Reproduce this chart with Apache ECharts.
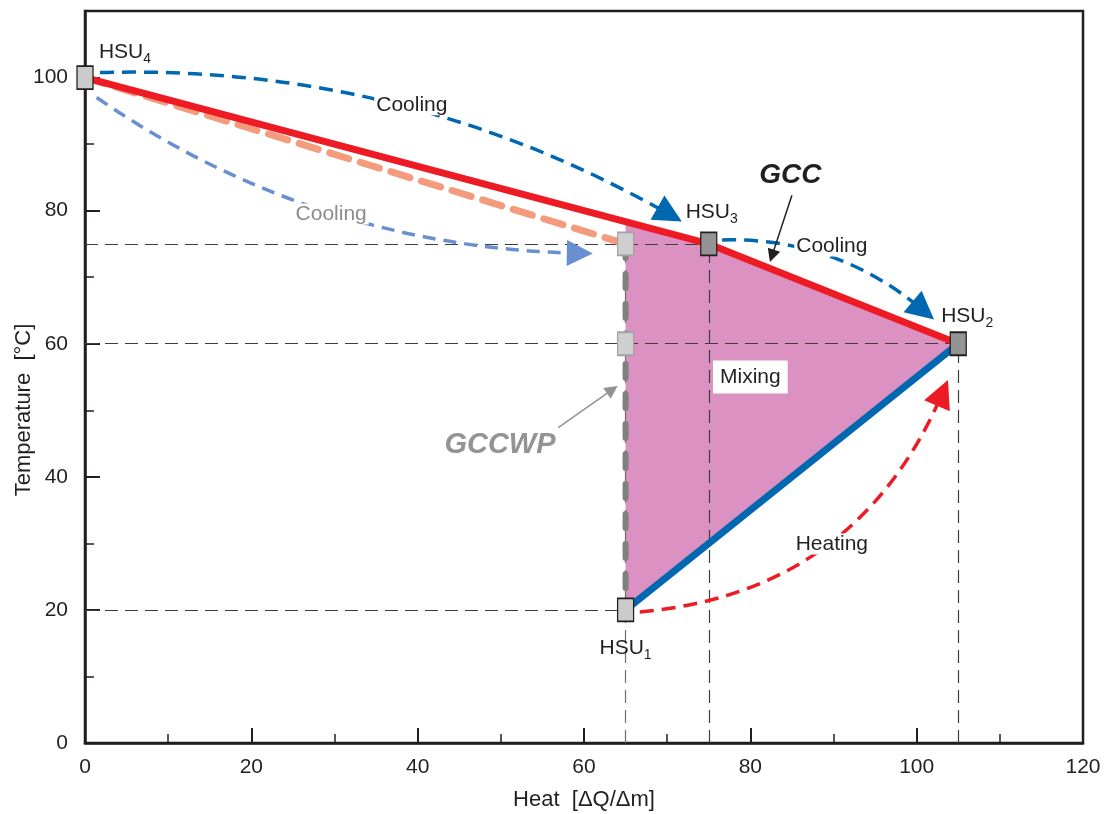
<!DOCTYPE html>
<html><head><meta charset="utf-8">
<script src="https://cdn.jsdelivr.net/npm/echarts@6/dist/echarts.min.js"></script>
<style>html,body{margin:0;padding:0;background:#fff}#c{width:1104px;height:814px}</style>
</head><body><div id="c"></div>
<script>
const FONT = '"Liberation Sans", Arial, sans-serif';
const TXT = '#231f20';

// axis ticks
const xTickLabels = [0, 20, 40, 60, 80, 100, 120];
const yTickLabels = [0, 20, 40, 60, 80, 100];

// curves (Heat, Temperature)
const gcc = [[0, 100], [75, 75], [105, 60]];
const gccwpCooling = [[0, 100], [65, 75]];
const gccwpVertical = [[65, 75], [65, 20]];
const heatingLine = [[65, 20], [105, 60]];
const mixingArea = [[65, 78.33], [75, 75], [105, 60], [65, 20]];

// thin guide lines
const guideLines = [
  [[0, 75], [75, 75]], [[0, 60], [105, 60]], [[0, 20], [65, 20]],
  [[65, 0], [65, 75]], [[75, 0], [75, 75]], [[105, 0], [105, 60]]
];

// arrows: start, end
const arrowCoolTop = [[1.8, 100.75], [70.3, 79.4]];
const arrowCoolLow = [[1.4, 97.0], [59.5, 73.6]];
const arrowCoolRight = [[76.6, 75.6], [100.8, 65.0]];
const arrowHeat = [[66.7, 19.7], [103.1, 52.6]];
const arrowGCC = [[85.0, 82.3], [82.6, 73.2]];
const arrowGCCWP = [[56.9, 47.4], [63.4, 53.1]];

// hot storage units
const hsuNames = ['4', '3', '2', '1', '', ''];
const hsuPoints = [[0, 100], [75, 75], [105, 60], [65, 20], [65, 75], [65, 60]];
const hsuKinds = ['light', 'dark', 'dark', 'light', 'pale', 'pale'];

// annotations
const noteTexts = ['Cooling', 'Cooling', 'Cooling', 'Heating', 'Mixing', 'GCC', 'GCCWP'];
const notePoints = [[39.3, 95.9], [29.6, 79.5], [89.8, 74.7], [89.8, 29.9], [80, 55], [84.8, 85.3], [49.9, 44.8]];

const kindStyle = {
  light: {color: '#cbcbcb', borderColor: '#231f20', borderWidth: 1.5, opacity: 1},
  dark: {color: '#949494', borderColor: '#231f20', borderWidth: 1.5, opacity: 1},
  pale: {color: '#cfcfcf', borderColor: '#a3a3a3', borderWidth: 1.5, opacity: 1}
};
const hsuLabelOffset = [[40, -25], [3, -32], [9, -28], [0, 38], [0, 0], [0, 0]];

const baseNote = {fontSize: 21, fontFamily: FONT, backgroundColor: '#fff', textBorderWidth: 0, opacity: 1};
const noteStyles = [
  Object.assign({}, baseNote, {color: TXT, padding: [0, 2]}),
  Object.assign({}, baseNote, {color: '#8c8c8c', padding: [0, 2]}),
  Object.assign({}, baseNote, {color: TXT, padding: [0, 2]}),
  Object.assign({}, baseNote, {color: TXT, padding: [0, 2]}),
  Object.assign({}, baseNote, {color: TXT, padding: [6, 7]}),
  {color: TXT, fontSize: 28, fontFamily: FONT, fontWeight: 'bold', fontStyle: 'italic', textBorderWidth: 0, opacity: 1},
  {color: '#939393', fontSize: 29, fontFamily: FONT, fontWeight: 'bold', fontStyle: 'italic', textBorderWidth: 0, opacity: 1}
];

function arrowItem(pts, color, width, dash, curveness, size) {
  return {
    coords: pts,
    symbol: ['none', 'triangle'],
    symbolSize: [0, size],
    lineStyle: {color: color, width: width, type: dash, curveness: curveness, opacity: 1}
  };
}

const chart = echarts.init(document.getElementById('c'), null, {renderer: 'canvas'});
chart.setOption({
  animation: false,
  backgroundColor: '#fff',
  grid: {left: 85, right: 21, top: 11, bottom: 71, show: true, borderColor: TXT, borderWidth: 2.5,
    containLabel: false, outerBoundsMode: 'none'},
  xAxis: [
    {
      type: 'value', min: 0, max: 120, interval: 20, position: 'bottom',
      axisLine: {show: true, lineStyle: {color: TXT, width: 2.5}}, splitLine: {show: false},
      axisTick: {show: true, inside: true, length: 15, lineStyle: {color: TXT, width: 2}},
      axisLabel: {show: true, margin: 14, fontSize: 21, fontFamily: FONT, color: TXT,
        formatter: v => xTickLabels.includes(v) ? String(v) : ''},
      name: 'Heat  [ΔQ/Δm]', nameLocation: 'middle', nameGap: 46, nameMoveOverlap: false,
      nameTextStyle: {fontSize: 22, fontFamily: FONT, color: TXT}
    },
    {
      type: 'value', min: 0, max: 120, interval: 10, position: 'bottom', offset: 0,
      axisLine: {show: false}, splitLine: {show: false}, axisLabel: {show: false},
      axisTick: {show: true, inside: true, length: 9, lineStyle: {color: TXT, width: 1.5}}
    }
  ],
  yAxis: [
    {
      type: 'value', min: 0, max: 110, interval: 20, position: 'left',
      axisLine: {show: true, lineStyle: {color: TXT, width: 2.5}}, splitLine: {show: false},
      axisTick: {show: true, inside: true, length: 15, lineStyle: {color: TXT, width: 2}},
      axisLabel: {show: true, margin: 17, fontSize: 21, fontFamily: FONT, color: TXT,
        formatter: v => yTickLabels.includes(v) ? String(v) : ''},
      name: 'Temperature  [°C]', nameLocation: 'middle', nameGap: 50, nameRotate: 90, nameMoveOverlap: false,
      nameTextStyle: {fontSize: 22, fontFamily: FONT, color: TXT, padding: [0, 66, 0, 0]}
    },
    {
      type: 'value', min: 0, max: 110, interval: 10, position: 'left', offset: 0,
      axisLine: {show: false}, splitLine: {show: false}, axisLabel: {show: false},
      axisTick: {show: true, inside: true, length: 9, lineStyle: {color: TXT, width: 1.5}}
    }
  ],
  series: [
    {
      name: 'Mixing area', type: 'custom', coordinateSystem: 'cartesian2d', z: 1,
      data: [mixingArea[0]],
      renderItem: function (params, api) {
        return {type: 'polygon', shape: {points: mixingArea.map(p => api.coord(p))},
          style: {fill: '#db91c1', stroke: 'none'}};
      }
    },
    {
      name: 'guides', type: 'lines', coordinateSystem: 'cartesian2d', z: 2, silent: true,
      data: guideLines.map((c, i) => ({coords: c, lineStyle: {color: i === 3 ? '#6e6e6e' : '#3d3d3d', width: 1.2, type: [13, 7], opacity: 1}})),
      symbol: 'none'
    },
    {
      name: 'GCCWP cooling', type: 'line', z: 3, data: gccwpCooling, showSymbol: false, symbol: 'none',
      lineStyle: {color: '#f59b7d', width: 7, type: [20, 12], cap: 'round'}
    },
    {
      name: 'GCCWP', type: 'line', z: 3, data: gccwpVertical, showSymbol: false, symbol: 'none',
      lineStyle: {color: '#808080', width: 6, type: [14, 16], cap: 'round'}
    },
    {
      name: 'GCC', type: 'line', z: 4, data: gcc, showSymbol: false, symbol: 'none',
      lineStyle: {color: '#ed1c24', width: 7}
    },
    {
      name: 'Heating', type: 'line', z: 4, data: heatingLine, showSymbol: false, symbol: 'none',
      lineStyle: {color: '#0067b1', width: 7}
    },
    {
      name: 'arrows', type: 'lines', coordinateSystem: 'cartesian2d', z: 5, silent: true,
      data: [
        arrowItem(arrowCoolTop, '#0067b1', 3.5, [14, 8], 0.14, 28),
        arrowItem(arrowCoolLow, '#6a8fd1', 3.5, [13, 8], -0.15, 26),
        arrowItem(arrowCoolRight, '#0067b1', 3.5, [14, 8], 0.19, 28),
        arrowItem(arrowHeat, '#ed1c24', 3.5, [14, 8], -0.3, 28),
        arrowItem(arrowGCC, '#231f20', 1.5, 'solid', 0, 13),
        arrowItem(arrowGCCWP, '#939393', 1.5, 'solid', 0, 13)
      ]
    },
    {
      name: 'HSU', type: 'scatter', z: 6, symbol: 'rect', symbolSize: [16, 23],
      itemStyle: {opacity: 1},
      data: hsuPoints.map((p, i) => ({
        value: p, itemStyle: kindStyle[hsuKinds[i]],
        label: {
          show: hsuNames[i] !== '', position: 'inside', offset: hsuLabelOffset[i],
          formatter: '{a|HSU}{s|' + hsuNames[i] + '}', opacity: 1, textBorderWidth: 0,
          rich: {
            a: {fontSize: 21, fontFamily: FONT, color: TXT, lineHeight: 28, textBorderWidth: 0},
            s: {fontSize: 14, fontFamily: FONT, color: TXT, lineHeight: 28, verticalAlign: 'bottom', textBorderWidth: 0}
          }
        }
      }))
    },
    {
      name: 'notes', type: 'scatter', z: 7, symbolSize: 0, silent: true,
      itemStyle: {opacity: 1},
      data: notePoints.map((p, i) => ({
        value: p,
        label: Object.assign({show: true, position: 'inside', formatter: noteTexts[i]}, noteStyles[i])
      }))
    }
  ]
});
</script>
</body></html>
